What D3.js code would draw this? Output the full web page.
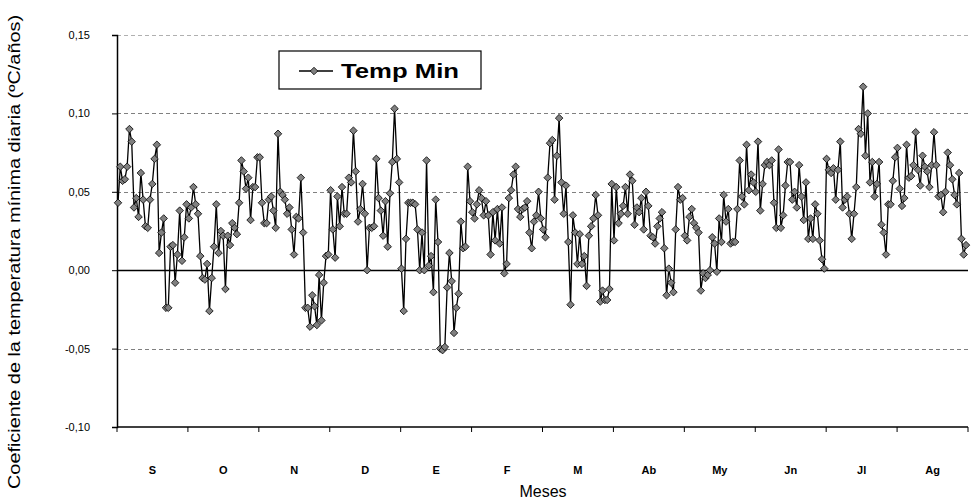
<!DOCTYPE html>
<html>
<head>
<meta charset="utf-8">
<script src="https://cdn.jsdelivr.net/npm/d3@7"></script>
<style>
  body { margin: 0; background: #fff; }
  svg { font-family: "Liberation Sans", Arial, sans-serif; }
</style>
</head>
<body>
<div id="plot"></div>
<script>
// months (Sep -> Aug)
const months = ['S', 'O', 'N', 'D', 'E', 'F', 'M', 'Ab', 'My', 'Jn', 'Jl', 'Ag'];
const yTicks = [-0.10, -0.05, 0, 0.05, 0.10, 0.15];

// daily trend of minimum temperature (ºC/año)
const sep = [0.043, 0.066, 0.057, 0.058, 0.066, 0.090, 0.082, 0.040, 0.046, 0.034, 0.062, 0.045, 0.028, 0.027, 0.045, 0.055,
  0.071, 0.080, 0.011, 0.024, 0.033, -0.024, -0.024, 0.015, 0.016, -0.008, 0.010, 0.038, 0.006, 0.021, 0.042, 0.033];
const oct = [0.040, 0.053, 0.042, 0.036, 0.009, -0.005, -0.006, 0.004, -0.026, -0.005, 0.015, 0.042, 0.011, 0.025, 0.022,
  -0.012, 0.022, 0.016, 0.030, 0.027, 0.023, 0.043, 0.070, 0.063, 0.052, 0.059, 0.032, 0.053, 0.053, 0.072, 0.072, 0.043, 0.030];
const nov = [0.030, 0.045, 0.047, 0.038, 0.027, 0.087, 0.050, 0.048, 0.045, 0.036, 0.040, 0.026, 0.010, 0.034, 0.033, 0.059,
  0.024, -0.024, -0.024, -0.036, -0.016, -0.023, -0.035, -0.003, -0.032, -0.008, 0.009, 0.010, 0.051, 0.026, 0.008, 0.047,
  0.028, 0.053, 0.036];
const dec = [0.036, 0.059, 0.056, 0.089, 0.063, 0.031, 0.039, 0.055, 0.036, 0.000, 0.027, 0.027, 0.028, 0.071, 0.046, 0.038,
  0.022, 0.044, 0.015, 0.049, 0.069, 0.103, 0.071, 0.056, 0.001, -0.026, 0.020, 0.043, 0.043, 0.043, 0.042, 0.026, 0.000];
const jan = [0.024, 0.000, 0.070, 0.003, 0.009, -0.014, 0.045, 0.018, -0.050, -0.051, -0.049, -0.011, 0.011, -0.007, -0.040,
  -0.024, -0.015, 0.031, 0.014, 0.015, 0.066, 0.044, 0.037, 0.033, 0.042, 0.051, 0.046, 0.035, 0.044, 0.035, 0.010, 0.037,
  0.019, 0.039];
const feb = [0.017, 0.040, -0.002, 0.004, 0.046, 0.051, 0.061, 0.066, 0.039, 0.034, 0.039, 0.040, 0.044, 0.024, 0.014, 0.031,
  0.035, 0.050, 0.033, 0.026, 0.021, 0.059, 0.081, 0.083, 0.045, 0.073, 0.097, 0.056, 0.036, 0.054, 0.018, -0.022, 0.035,
  0.024, 0.004];
const mar = [0.023, 0.004, 0.009, -0.010, 0.022, 0.028, 0.033, 0.048, 0.035, -0.020, -0.013, -0.019, -0.019, -0.012, 0.055,
  0.019, 0.053, 0.030, 0.036, 0.041, 0.053, 0.036, 0.061, 0.057, 0.029, 0.040, 0.037, 0.046, 0.026, 0.050, 0.041, 0.022,
  0.021, 0.017, 0.028];
const apr = [0.033, 0.037, 0.014, -0.016, 0.001, -0.008, -0.014, 0.026, 0.053, 0.045, 0.046, 0.022, 0.019, 0.034, 0.039,
  0.030, 0.027, 0.024, -0.013, -0.002, -0.005, -0.003, 0.000, 0.021, 0.017, -0.001, 0.033, 0.018, 0.048, 0.031, 0.039,
  0.017, 0.018];
const may = [0.018, 0.039, 0.070, 0.047, 0.042, 0.080, 0.051, 0.061, 0.056, 0.050, 0.082, 0.038, 0.055, 0.067, 0.069, 0.067,
  0.070, 0.043, 0.027, 0.077, 0.027, 0.035, 0.054, 0.069, 0.069, 0.045, 0.050, 0.040, 0.067, 0.047, 0.032, 0.056, 0.020,
  0.033];
const jun = [0.020, 0.042, 0.036, 0.019, 0.007, 0.001, 0.071, 0.064, 0.062, 0.065, 0.045, 0.064, 0.082, 0.040, 0.045, 0.047,
  0.036, 0.020, 0.036, 0.053, 0.090, 0.087, 0.117, 0.073, 0.100, 0.056, 0.069, 0.047, 0.055, 0.069, 0.029, 0.024, 0.010,
  0.042];
const jul = [0.042, 0.057, 0.072, 0.078, 0.052, 0.041, 0.046, 0.080, 0.059, 0.060, 0.067, 0.088, 0.064, 0.054, 0.073, 0.066,
  0.063, 0.053, 0.067, 0.088, 0.067, 0.047, 0.048, 0.037, 0.050, 0.075, 0.067, 0.058, 0.048, 0.042, 0.062, 0.020, 0.010,
  0.016];

const values = [].concat(sep, oct, nov, dec, jan, feb, mar, apr, may, jun, jul);

const width = 972, height = 502;
const margin = { left: 117, right: 4, top: 35, bottom: 75 };

const svg = d3.select("#plot").append("svg")
  .attr("width", width)
  .attr("height", height);

const x = d3.scaleLinear()
  .domain([0, values.length - 1])
  .range([margin.left + 1, width - margin.right - 2]);

const xMonth = d3.scaleBand()
  .domain(months)
  .range([margin.left, width - margin.right]);

const y = d3.scaleLinear()
  .domain([-0.10, 0.15])
  .range([height - margin.bottom, margin.top]);

// grid lines
svg.append("g")
  .selectAll("line")
  .data(yTicks.filter(d => d !== 0 && d !== -0.10))
  .enter().append("line")
  .attr("x1", margin.left)
  .attr("x2", width - margin.right)
  .attr("y1", d => Math.round(y(d)) + 0.5)
  .attr("y2", d => Math.round(y(d)) + 0.5)
  .attr("stroke", d => d === 0.15 ? "#b0b0b0" : "#808080")
  .attr("stroke-width", 1)
  .attr("stroke-dasharray", "4,3");

// zero line
svg.append("line")
  .attr("x1", margin.left)
  .attr("x2", width - margin.right)
  .attr("y1", Math.round(y(0)) + 0.5)
  .attr("y2", Math.round(y(0)) + 0.5)
  .attr("stroke", "#000")
  .attr("stroke-width", 1.5);

// y axis
const yAxis = svg.append("g")
  .attr("transform", `translate(${margin.left},0)`)
  .call(d3.axisLeft(y)
    .tickValues(yTicks)
    .tickSize(5)
    .tickFormat(d => d3.format(".2f")(d).replace(".", ",").replace("−", "-")));
yAxis.select(".domain").attr("stroke-width", 1.5);
yAxis.selectAll(".tick text")
  .attr("x", -27)
  .style("font-size", "11px")
  .style("font-family", "\"Liberation Sans\", Arial, sans-serif");

// x axis (month boundaries)
const xAxis = svg.append("g")
  .attr("transform", `translate(0,${y(-0.10)})`);
xAxis.append("line")
  .attr("x1", margin.left)
  .attr("x2", width - margin.right)
  .attr("stroke", "#000")
  .attr("stroke-width", 1.5);
xAxis.selectAll(".tk")
  .data(months.concat(["end"]))
  .enter().append("line")
  .attr("class", "tk")
  .attr("x1", (d, i) => i < months.length ? xMonth(d) : width - margin.right)
  .attr("x2", (d, i) => i < months.length ? xMonth(d) : width - margin.right)
  .attr("y1", 0)
  .attr("y2", 5)
  .attr("stroke", "#000");
xAxis.selectAll("text")
  .data(months)
  .enter().append("text")
  .attr("x", d => xMonth(d) + xMonth.bandwidth() / 2)
  .attr("y", 47)
  .attr("text-anchor", "middle")
  .style("font-size", "11px")
  .style("font-weight", "bold")
  .text(d => d);

// series line + diamonds
svg.append("path")
  .datum(values)
  .attr("fill", "none")
  .attr("stroke", "#000")
  .attr("stroke-width", 1.3)
  .attr("d", d3.line().x((d, i) => x(i)).y(d => y(d)));

const diamond = d3.symbol().type(d3.symbolDiamond2).size(36);
svg.append("g")
  .selectAll("path")
  .data(values)
  .enter().append("path")
  .attr("transform", (d, i) => `translate(${x(i)},${y(d)})`)
  .attr("d", diamond)
  .attr("fill", "#808080")
  .attr("stroke", "#000")
  .attr("stroke-width", 0.8);

// legend
const lg = svg.append("g").attr("transform", "translate(279,51)");
lg.append("rect")
  .attr("width", 202).attr("height", 38)
  .attr("fill", "#fff").attr("stroke", "#000").attr("stroke-width", 1.2);
lg.append("line")
  .attr("x1", 20).attr("x2", 54).attr("y1", 20).attr("y2", 20)
  .attr("stroke", "#000").attr("stroke-width", 1.3);
lg.append("path")
  .attr("transform", "translate(35,20)")
  .attr("d", diamond)
  .attr("fill", "#808080").attr("stroke", "#000").attr("stroke-width", 0.8);
lg.append("text")
  .attr("x", 62).attr("y", 27)
  .attr("textLength", 118)
  .attr("lengthAdjust", "spacingAndGlyphs")
  .style("font-size", "20px")
  .style("font-weight", "bold")
  .text("Temp Min");

// axis titles
svg.append("text")
  .attr("x", 543).attr("y", 497)
  .attr("text-anchor", "middle")
  .style("font-size", "16px")
  .text("Meses");

svg.append("text")
  .attr("transform", "translate(20,252) rotate(-90)")
  .attr("text-anchor", "middle")
  .attr("textLength", 474)
  .attr("lengthAdjust", "spacingAndGlyphs")
  .style("font-size", "16px")
  .text("Coeficiente de la temperatura mínima diaria (ºC/años)");
</script>
</body>
</html>
